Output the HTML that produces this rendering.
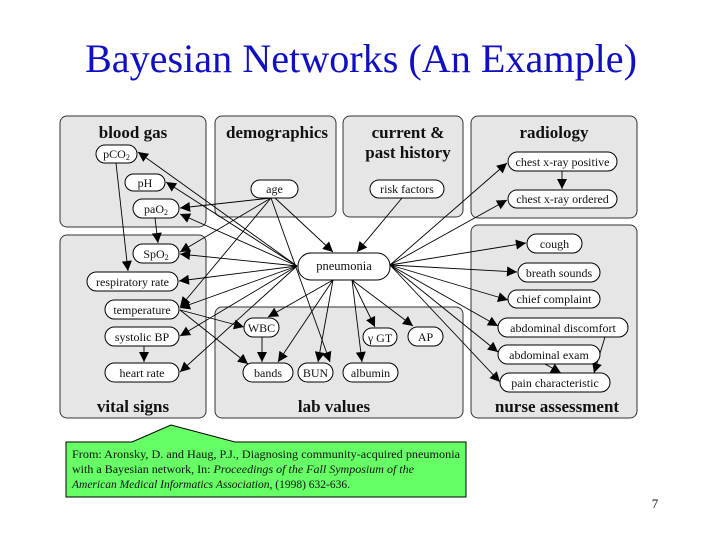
<!DOCTYPE html>
<html><head><meta charset="utf-8"><style>
html,body{margin:0;padding:0;background:#fff;}
svg{display:block;}
</style></head><body>
<svg width="720" height="540" viewBox="0 0 720 540" xmlns="http://www.w3.org/2000/svg">
<defs>
<marker id="a" viewBox="0 0 10 10" refX="10" refY="5" markerWidth="11" markerHeight="10" markerUnits="userSpaceOnUse" orient="auto"><path d="M0,0L10,5L0,10z" fill="#000"/></marker>
</defs>
<rect width="720" height="540" fill="#fff"/>
<text x="361" y="72" text-anchor="middle" font-family="Liberation Serif, serif" font-size="40" fill="#1010c0" textLength="552" lengthAdjust="spacingAndGlyphs">Bayesian Networks (An Example)</text>
<rect x="60" y="108" width="582" height="315" fill="#fff"/>
<g fill="#e6e6e6" stroke="#333" stroke-width="1">
<rect x="60" y="116" width="146" height="111" rx="7"/>
<rect x="215" y="116" width="121" height="101" rx="7"/>
<rect x="343" y="116" width="120" height="101" rx="7"/>
<rect x="471" y="116" width="166" height="102" rx="7"/>
<rect x="60" y="235" width="146" height="183" rx="7"/>
<rect x="215" y="307" width="248" height="111" rx="7"/>
<rect x="471" y="225" width="166" height="193" rx="7"/>
</g>
<g font-family="Liberation Serif, serif" font-weight="bold" font-size="17" text-anchor="middle" fill="#111">
<text x="133" y="138">blood gas</text>
<text x="277" y="138">demographics</text>
<text x="408" y="138">current &amp;</text>
<text x="408" y="158">past history</text>
<text x="554" y="138">radiology</text>
<text x="133" y="412">vital signs</text>
<text x="334" y="412">lab values</text>
<text x="557" y="412">nurse assessment</text>
</g>
<g stroke="#000" stroke-width="0.9" fill="none" marker-end="url(#a)">
<line x1="116" y1="163" x2="128" y2="271"/>
<line x1="155" y1="218" x2="158" y2="243"/>
<line x1="271" y1="198" x2="180" y2="208"/>
<line x1="271" y1="198" x2="180" y2="252"/>
<line x1="271" y1="198" x2="180" y2="307"/>
<line x1="271" y1="198" x2="330" y2="362"/>
<line x1="275" y1="198" x2="333" y2="252"/>
<line x1="402" y1="198" x2="357" y2="252"/>
<line x1="297" y1="266" x2="138" y2="152"/>
<line x1="297" y1="266" x2="166" y2="182"/>
<line x1="297" y1="266" x2="180" y2="214"/>
<line x1="297" y1="266" x2="180" y2="254"/>
<line x1="297" y1="266" x2="179" y2="281"/>
<line x1="297" y1="266" x2="180" y2="308"/>
<line x1="297" y1="266" x2="180" y2="336"/>
<line x1="297" y1="266" x2="180" y2="372"/>
<line x1="333" y1="280" x2="268" y2="317"/>
<line x1="333" y1="280" x2="278" y2="362"/>
<line x1="333" y1="280" x2="318" y2="362"/>
<line x1="352" y1="280" x2="362" y2="362"/>
<line x1="352" y1="280" x2="375" y2="327"/>
<line x1="352" y1="280" x2="413" y2="326"/>
<line x1="180" y1="310" x2="244" y2="327"/>
<line x1="180" y1="310" x2="248" y2="364"/>
<line x1="262" y1="337" x2="262" y2="362"/>
<line x1="144" y1="346" x2="144" y2="362"/>
<line x1="390" y1="265" x2="507" y2="163"/>
<line x1="390" y1="265" x2="507" y2="200"/>
<line x1="390" y1="265" x2="526" y2="243"/>
<line x1="390" y1="265" x2="517" y2="272"/>
<line x1="390" y1="265" x2="508" y2="300"/>
<line x1="390" y1="265" x2="498" y2="326"/>
<line x1="390" y1="265" x2="498" y2="352"/>
<line x1="390" y1="265" x2="500" y2="382"/>
<line x1="562" y1="171" x2="562" y2="189"/>
<line x1="545" y1="364" x2="561" y2="373"/>
<line x1="605" y1="337" x2="594" y2="373"/>
</g>
<g fill="#fff" stroke="#000" stroke-width="1">
<rect x="96" y="145" width="41" height="18" rx="9"/>
<rect x="125" y="174" width="40" height="17" rx="8.5"/>
<rect x="133" y="199" width="46" height="19" rx="9.5"/>
<rect x="251" y="180" width="47" height="18" rx="9"/>
<rect x="370" y="180" width="74" height="18" rx="9"/>
<rect x="508" y="152" width="109" height="19" rx="9.5"/>
<rect x="508" y="190" width="109" height="18" rx="9"/>
<rect x="298" y="253" width="92" height="27" rx="13"/>
<rect x="133" y="244" width="46" height="19" rx="9.5"/>
<rect x="87" y="272" width="91" height="19" rx="9.5"/>
<rect x="105" y="300" width="74" height="19" rx="9.5"/>
<rect x="105" y="327" width="74" height="19" rx="9.5"/>
<rect x="105" y="363" width="74" height="19" rx="9.5"/>
<rect x="244" y="318" width="35" height="19" rx="9.5"/>
<rect x="243" y="363" width="50" height="19" rx="9.5"/>
<rect x="298" y="363" width="35" height="19" rx="9.5"/>
<rect x="343" y="363" width="55" height="19" rx="9.5"/>
<rect x="363" y="328" width="34" height="18" rx="9"/>
<rect x="408" y="327" width="35" height="19" rx="9.5"/>
<rect x="527" y="234" width="55" height="19" rx="9.5"/>
<rect x="518" y="263" width="82" height="19" rx="9.5"/>
<rect x="508" y="290" width="92" height="18" rx="9"/>
<rect x="498" y="318" width="130" height="19" rx="9.5"/>
<rect x="498" y="345" width="102" height="19" rx="9.5"/>
<rect x="500" y="373" width="110" height="19" rx="9.5"/>
</g>
<g font-family="Liberation Serif, serif" font-size="12" text-anchor="middle" fill="#111">
<text x="116.5" y="158">pCO<tspan font-size="8" dy="2">2</tspan></text>
<text x="145" y="187">pH</text>
<text x="156" y="213">paO<tspan font-size="8" dy="2">2</tspan></text>
<text x="274.5" y="193">age</text>
<text x="407" y="193">risk factors</text>
<text x="562.5" y="166">chest x-ray positive</text>
<text x="562.5" y="203">chest x-ray ordered</text>
<text x="344" y="270" font-size="12.5">pneumonia</text>
<text x="156" y="258">SpO<tspan font-size="8" dy="2">2</tspan></text>
<text x="132.5" y="286">respiratory rate</text>
<text x="142" y="314">temperature</text>
<text x="142" y="341">systolic BP</text>
<text x="142" y="377">heart rate</text>
<text x="261.5" y="332">WBC</text>
<text x="268" y="377">bands</text>
<text x="315.5" y="377">BUN</text>
<text x="370.5" y="377">albumin</text>
<text x="380" y="342">γ GT</text>
<text x="425.5" y="341">AP</text>
<text x="554.5" y="248">cough</text>
<text x="559" y="277">breath sounds</text>
<text x="554" y="303">chief complaint</text>
<text x="563" y="332">abdominal discomfort</text>
<text x="549" y="359">abdominal exam</text>
<text x="555" y="387">pain characteristic</text>
</g>
<path d="M66,442 L132,442 L171,425 L235,442 L466,442 L466,497 L66,497 Z" fill="#66ff66" stroke="#000" stroke-width="1"/>
<g font-family="Liberation Serif, serif" font-size="11.5" fill="#111">
<text x="72" y="458" textLength="388" lengthAdjust="spacingAndGlyphs">From: Aronsky, D. and Haug, P.J., Diagnosing community-acquired pneumonia</text>
<text x="72" y="473" textLength="342" lengthAdjust="spacingAndGlyphs">with a Bayesian network, In: <tspan font-style="italic">Proceedings of the Fall Symposium of the</tspan></text>
<text x="72" y="488"><tspan font-style="italic">American Medical Informatics Association,</tspan> (1998) 632-636.</text>
</g>
<text x="655" y="508" font-family="Liberation Serif, serif" font-size="13" text-anchor="middle" fill="#111">7</text>
</svg>
</body></html>
